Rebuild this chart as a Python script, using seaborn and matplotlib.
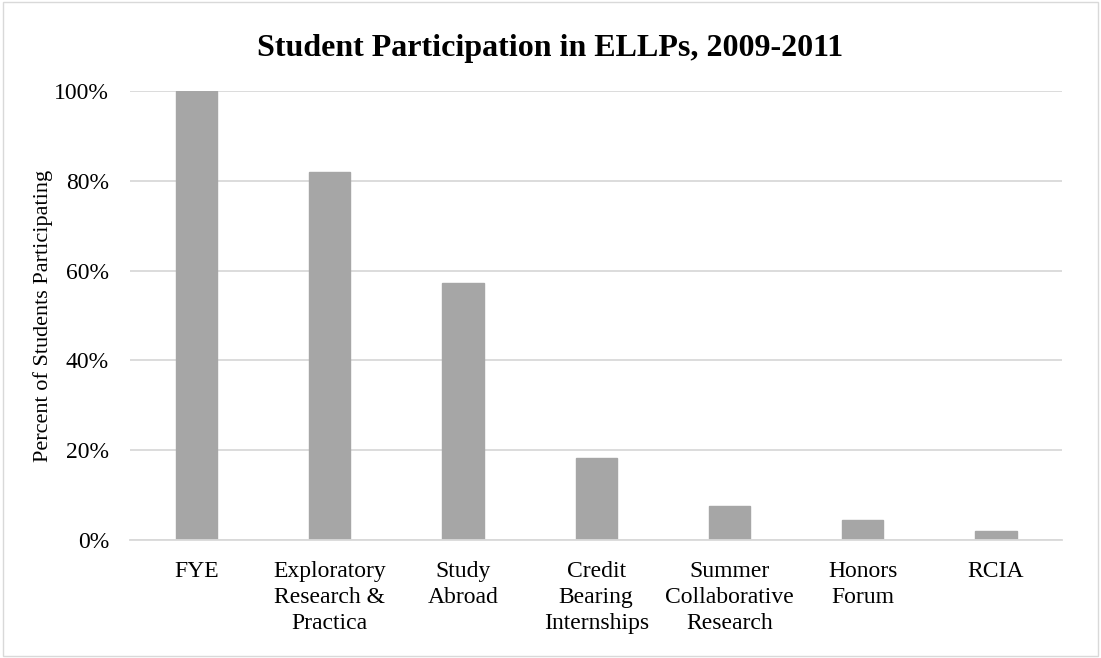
import matplotlib
matplotlib.use("Agg")
import matplotlib.pyplot as plt
import seaborn as sns
import pandas as pd
from matplotlib.ticker import PercentFormatter
from matplotlib.patches import Rectangle

categories = ["FYE", "Exploratory\nResearch &\nPractica", "Study\nAbroad",
              "Credit\nBearing\nInternships", "Summer\nCollaborative\nResearch",
              "Honors\nForum", "RCIA"]
values = [1.00, 0.82, 0.573, 0.184, 0.076, 0.045, 0.020]
yticks = [0, 0.2, 0.4, 0.6, 0.8, 1.0]

sns.set_theme(style="white")
plt.rcParams['font.family'] = ['Liberation Serif', 'DejaVu Serif']
plt.rcParams['text.color'] = 'black'

df = pd.DataFrame({"cat": categories, "val": values})

fig = plt.figure(figsize=(11.01, 6.58), dpi=100)
ax = fig.add_axes([0.118, 0.179, 0.847, 0.683])
sns.barplot(data=df, x="cat", y="val", color="#A6A6A6", width=0.31,
            saturation=1, ax=ax, edgecolor="#A6A6A6")
ax.set_ylim(0, 1.0)
ax.set_xlim(-0.5, len(categories) - 0.5)
ax.set_yticks(yticks)
ax.yaxis.set_major_formatter(PercentFormatter(1.0, decimals=0))
ax.grid(axis="y", color="#D9D9D9", linewidth=1.3)
ax.set_axisbelow(True)
for s in ["left", "right", "top"]:
    ax.spines[s].set_visible(False)
ax.spines["bottom"].set_color("#D9D9D9")
ax.spines["bottom"].set_linewidth(1.3)
ax.tick_params(axis="both", length=0, labelsize=17, colors="black")
ax.tick_params(axis="y", pad=15)
ax.tick_params(axis="x", pad=15)
ax.set_xlabel("")
ax.set_ylabel("Percent of Students Participating", fontsize=16, color="black")
ax.yaxis.set_label_coords(-0.083, 0.5)
for t in ax.get_xticklabels():
    t.set_linespacing(1.3)
fig.suptitle("Student Participation in ELLPs, 2009-2011", fontsize=23,
             fontweight="bold", y=0.949, color="black")
fig.patches.append(Rectangle((0.003, 0.003), 0.994, 0.994, transform=fig.transFigure,
                             fill=False, edgecolor="#D9D9D9", linewidth=1))
fig.savefig("out.png", dpi=100)
